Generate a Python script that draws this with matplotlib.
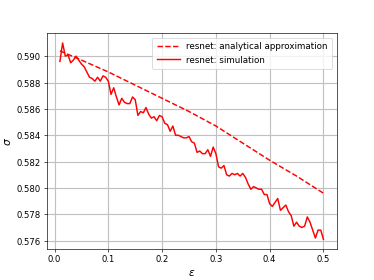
import numpy as np
import matplotlib
matplotlib.use('Agg')
import matplotlib.pyplot as plt

# analytical approximation, read at a few epsilon values
approx_eps = [0.01, 0.05, 0.1, 0.15, 0.2, 0.25, 0.3, 0.35, 0.4, 0.45, 0.5]
approx_sigma = [0.5904, 0.5897, 0.5888, 0.5878, 0.5868, 0.5858, 0.5847,
                0.5834, 0.5821, 0.5809, 0.5796]

# simulation, epsilon from 0.01 to 0.5 in steps of 0.005
sim_sigma = [
    0.5896, 0.5910, 0.5900, 0.5901, 0.5895, 0.5897, 0.5900, 0.5897, 0.5894,
    0.5892, 0.5888, 0.5884, 0.5883, 0.5881, 0.5884, 0.5881, 0.5885, 0.5884,
    0.5881, 0.5871, 0.5876, 0.5869, 0.5863, 0.5868, 0.5865, 0.5864, 0.5864,
    0.5869, 0.5867, 0.5855, 0.5858, 0.5857, 0.5861, 0.5856, 0.5853, 0.5854,
    0.5851, 0.5855, 0.5854, 0.5849, 0.5848, 0.5843, 0.5847, 0.5840, 0.5840,
    0.5839, 0.5838, 0.5838, 0.5839, 0.5835, 0.5834, 0.5827, 0.5828, 0.5826,
    0.5826, 0.5829, 0.5824, 0.5831, 0.5826, 0.5816, 0.5815, 0.5817, 0.5810,
    0.5809, 0.5811, 0.5810, 0.5811, 0.5809, 0.5811, 0.5808, 0.5803, 0.5799,
    0.5801, 0.5800, 0.5799, 0.5799, 0.5795, 0.5795, 0.5788, 0.5786, 0.5789,
    0.5792, 0.5783, 0.5785, 0.5787, 0.5782, 0.5779, 0.5771, 0.5774, 0.5771,
    0.5770, 0.5771, 0.5778, 0.5774, 0.5768, 0.5762, 0.5768, 0.5768, 0.5761]
sim_eps = np.linspace(0.01, 0.5, len(sim_sigma))

plt.rcParams['font.size'] = 10.5

fig = plt.figure(figsize=(6.4, 4.8), dpi=58.44)
ax = fig.add_subplot(111)
ax.plot(approx_eps, approx_sigma, 'r--', linewidth=1.8,
        label='resnet: analytical approximation')
ax.plot(sim_eps, sim_sigma, 'r-', linewidth=1.8, label='resnet: simulation')
ax.set_xlabel(r'$\epsilon$', fontsize=13)
ax.set_ylabel(r'$\sigma$', fontsize=13)
ax.grid(True, color='#c0c0c0', linewidth=1.4)
ax.legend(loc='upper right', fontsize=10.8, handlelength=2.7,
          handletextpad=0.7, borderpad=0.5)
fig.savefig('out.png', dpi=58.44)
